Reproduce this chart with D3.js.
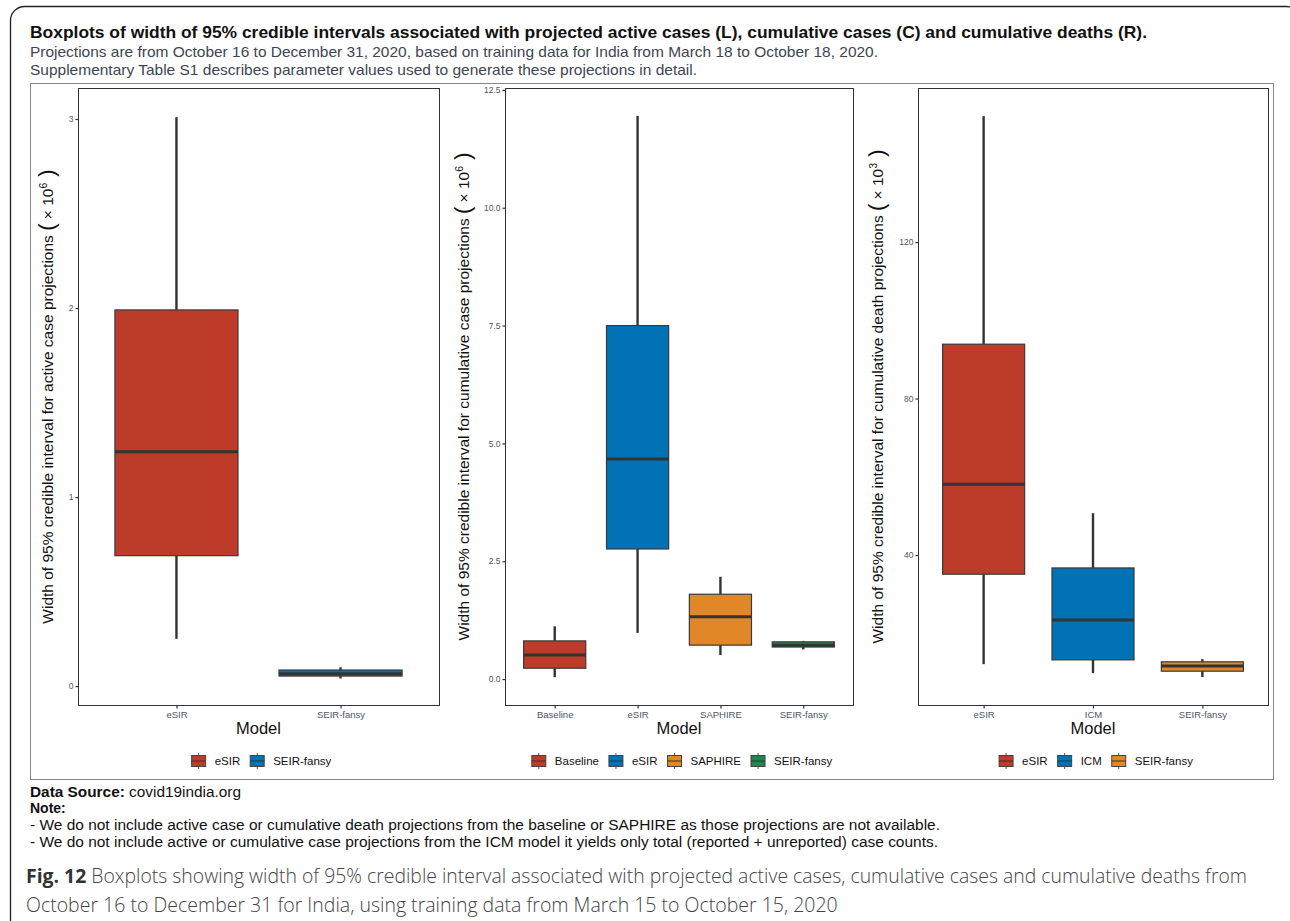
<!DOCTYPE html>
<html lang="en">
  <head>
    <meta charset="UTF-8" />
    <title>Boxplots of credible interval widths</title>
    <style>
      body { margin: 0; background: #fff; }
      text { font-family: "Liberation Sans", Arial, sans-serif; }
    </style>
  </head>
  <body>
    <svg id="container" width="1290" height="921"></svg>
  </body>
  <script src="https://cdn.jsdelivr.net/npm/d3@7"></script>
  <script>
    // five-number summaries [whisker low, q1, median, q3, whisker high]
    let activeModels = ["eSIR", "SEIR-fansy"];
    let activeStats = [
      [0.25, 0.69, 1.24, 1.99, 3.01],
      [0.04, 0.053, 0.065, 0.085, 0.10]
    ];
    let activeTicks = [0, 1, 2, 3];

    let cumModels = ["Baseline", "eSIR", "SAPHIRE", "SEIR-fansy"];
    let cumStats = [
      [0.04, 0.23, 0.51, 0.81, 1.12],
      [0.98, 2.76, 4.67, 7.5, 11.95],
      [0.51, 0.72, 1.32, 1.8, 2.17],
      [0.63, 0.68, 0.72, 0.79, 0.81]
    ];
    let cumTicks = [0, 2.5, 5, 7.5, 10, 12.5];

    let deathModels = ["eSIR", "ICM", "SEIR-fansy"];
    let deathStats = [
      [12.1, 35.1, 58.1, 93.9, 152.2],
      [9.8, 13.2, 23.4, 36.7, 50.7],
      [8.8, 10.3, 11.6, 12.7, 13.4]
    ];
    let deathTicks = [40, 80, 120];

    let palette = ["#BC3C29", "#0072B5", "#E18727", "#20854E"];

    let svg = d3.select("#container");

    // outer rounded frame and chart box
    svg.append("rect").attr("x", 10.5).attr("y", 6.5).attr("width", 1290).attr("height", 935)
      .attr("rx", 14).attr("fill", "none").attr("stroke", "#222").attr("stroke-width", 1.3);
    svg.append("rect").attr("x", 30.5).attr("y", 83.5).attr("width", 1243).attr("height", 696)
      .attr("fill", "none").attr("stroke", "#888").attr("stroke-width", 1);

    // the header and notes are a bit wider than the font gives, so stretch them
    function stretched(sel, len) {
      return sel.attr("textLength", len).attr("lengthAdjust", "spacingAndGlyphs");
    }

    stretched(svg.append("text").attr("x", 30).attr("y", 38).attr("font-size", 16.5).attr("font-weight", "bold")
      .attr("fill", "#111")
      .text("Boxplots of width of 95% credible intervals associated with projected active cases (L), cumulative cases (C) and cumulative deaths (R)."), 1117);
    stretched(svg.append("text").attr("x", 30).attr("y", 57).attr("font-size", 14.5).attr("fill", "#3d4652")
      .text("Projections are from October 16 to December 31, 2020, based on training data for India from March 18 to October 18, 2020."), 848);
    stretched(svg.append("text").attr("x", 30).attr("y", 75).attr("font-size", 14.5).attr("fill", "#3d4652")
      .text("Supplementary Table S1 describes parameter values used to generate these projections in detail."), 667);

    function drawPanel(cfg) {
      let x = d3.scalePoint().domain(cfg.models).range([cfg.x0, cfg.x1]).padding(0.6);
      let y = d3.scaleLinear().domain(cfg.domain).range([705, 88]);
      let color = d3.scaleOrdinal().domain(cfg.models).range(palette);
      let bw = x.step() * 0.75;
      let g = svg.append("g");

      g.append("rect").attr("x", cfg.x0 + 0.5).attr("y", 88.5).attr("width", cfg.x1 - cfg.x0).attr("height", 617)
        .attr("fill", "#fff").attr("stroke", "#333").attr("stroke-width", 1);

      let yAxis = g.append("g").attr("transform", `translate(${cfg.x0 + 0.5},0)`)
        .call(d3.axisLeft(y).tickValues(cfg.ticks).tickFormat(d3.format(cfg.fmt)).tickSize(3).tickPadding(2));
      yAxis.select(".domain").remove();
      yAxis.selectAll("line").attr("stroke", "#333").attr("stroke-width", 1.2);
      yAxis.selectAll("text").attr("font-size", 8.5).attr("fill", "#4d5566")
        .style("font-family", "Liberation Sans, Arial, sans-serif");

      let xAxis = g.append("g").attr("transform", "translate(0,705.5)")
        .call(d3.axisBottom(x).tickSize(3).tickPadding(3));
      xAxis.select(".domain").remove();
      xAxis.selectAll("line").attr("stroke", "#333").attr("stroke-width", 1.2);
      xAxis.selectAll("text").attr("font-size", 9.5).attr("fill", "#4d5566")
        .style("font-family", "Liberation Sans, Arial, sans-serif");

      let boxes = g.selectAll(".box").data(cfg.models.map((m, i) => ({ m: m, s: cfg.stats[i] })))
        .enter().append("g").attr("class", "box");
      boxes.append("line").attr("x1", d => x(d.m)).attr("x2", d => x(d.m))
        .attr("y1", d => y(d.s[0])).attr("y2", d => y(d.s[1])).attr("stroke", "#333").attr("stroke-width", 2.4);
      boxes.append("line").attr("x1", d => x(d.m)).attr("x2", d => x(d.m))
        .attr("y1", d => y(d.s[3])).attr("y2", d => y(d.s[4])).attr("stroke", "#333").attr("stroke-width", 2.4);
      boxes.append("rect").attr("x", d => x(d.m) - bw / 2).attr("width", bw)
        .attr("y", d => y(d.s[3])).attr("height", d => y(d.s[1]) - y(d.s[3]))
        .attr("fill", d => color(d.m)).attr("stroke", "#3a3a3a").attr("stroke-width", 1.2);
      boxes.append("line").attr("x1", d => x(d.m) - bw / 2).attr("x2", d => x(d.m) + bw / 2)
        .attr("y1", d => y(d.s[2])).attr("y2", d => y(d.s[2])).attr("stroke", "#333").attr("stroke-width", 3);

      // axis titles
      let cy = (88 + 705) / 2;
      let yt = g.append("text").attr("transform", `translate(${cfg.titleX},${cy}) rotate(-90)`)
        .attr("text-anchor", "middle").attr("font-size", 15.5).attr("fill", "#111");
      yt.append("tspan").text(cfg.ylab + " ");
      yt.append("tspan").attr("font-size", 22).attr("font-weight", 300).attr("dy", 1).text("(");
      yt.append("tspan").attr("dy", -1).text(" \u00d7 10");
      yt.append("tspan").attr("font-size", 10.5).attr("dy", -6).text(cfg.exp);
      yt.append("tspan").attr("font-size", 22).attr("font-weight", 300).attr("dy", 7).text(" )");

      g.append("text").attr("x", (cfg.x0 + cfg.x1) / 2).attr("y", 734).attr("text-anchor", "middle")
        .attr("font-size", 16.5).attr("fill", "#111").text("Model");

      // legend
      let lg = g.append("g");
      let cx = 0;
      cfg.models.forEach((m, i) => {
        let item = lg.append("g").attr("transform", `translate(${cx},0)`);
        item.append("line").attr("x1", 7).attr("x2", 7).attr("y1", -8).attr("y2", 8).attr("stroke", "#555").attr("stroke-width", 1);
        item.append("rect").attr("x", 0).attr("y", -5.5).attr("width", 14).attr("height", 11)
          .attr("fill", color(m)).attr("stroke", "#444").attr("stroke-width", 1);
        item.append("line").attr("x1", 0).attr("x2", 14).attr("y1", 0).attr("y2", 0).attr("stroke", "#333").attr("stroke-width", 1);
        let t = item.append("text").attr("x", 23).attr("y", 4).attr("font-size", 11.5).attr("fill", "#111").text(m);
        cx += 23 + t.node().getComputedTextLength() + 10;
      });
      let lw = cx - 10;
      lg.attr("transform", `translate(${(cfg.x0 + cfg.x1) / 2 + 3 - lw / 2},761)`);
    }

    drawPanel({ models: activeModels, stats: activeStats, ticks: activeTicks, fmt: "d",
      x0: 78, x1: 439, domain: [-0.1, 3.164], titleX: 53, exp: "6",
      ylab: "Width of 95% credible interval for active case projections" });
    drawPanel({ models: cumModels, stats: cumStats, ticks: cumTicks, fmt: ".1f",
      x0: 505, x1: 853, domain: [-0.55, 12.54], titleX: 469, exp: "6",
      ylab: "Width of 95% credible interval for cumulative case projections" });
    drawPanel({ models: deathModels, stats: deathStats, ticks: deathTicks, fmt: "d",
      x0: 918, x1: 1268, domain: [1.66, 159.4], titleX: 883, exp: "3",
      ylab: "Width of 95% credible interval for cumulative death projections" });

    // notes
    let notes = svg.append("g").attr("font-size", 14).attr("fill", "#111");
    let ds = stretched(notes.append("text").attr("x", 30).attr("y", 797), 211);
    ds.append("tspan").attr("font-weight", "bold").text("Data Source: ");
    ds.append("tspan").text("covid19india.org");
    notes.append("text").attr("x", 30).attr("y", 813).attr("font-weight", "bold").text("Note:");
    stretched(notes.append("text").attr("x", 30).attr("y", 830)
      .text("- We do not include active case or cumulative death projections from the baseline or SAPHIRE as those projections are not available."), 910);
    stretched(notes.append("text").attr("x", 30).attr("y", 847)
      .text("- We do not include active or cumulative case projections from the ICM model it yields only total (reported + unreported) case counts."), 908);

    let cap = svg.append("g").attr("font-size", 19.5).attr("fill", "#444");
    let c1 = stretched(cap.append("text").attr("x", 26).attr("y", 883).style("font-family", "Open Sans, sans-serif"), 1221);
    c1.append("tspan").attr("font-weight", "bold").attr("fill", "#333").text("Fig. 12");
    c1.append("tspan").attr("font-weight", 300)
      .text(" Boxplots showing width of 95% credible interval associated with projected active cases, cumulative cases and cumulative deaths from");
    cap.append("text").attr("x", 26).attr("y", 912).style("font-family", "Open Sans, sans-serif").attr("font-weight", 300)
      .text("October 16 to December 31 for India, using training data from March 15 to October 15, 2020");
  </script>
</html>
